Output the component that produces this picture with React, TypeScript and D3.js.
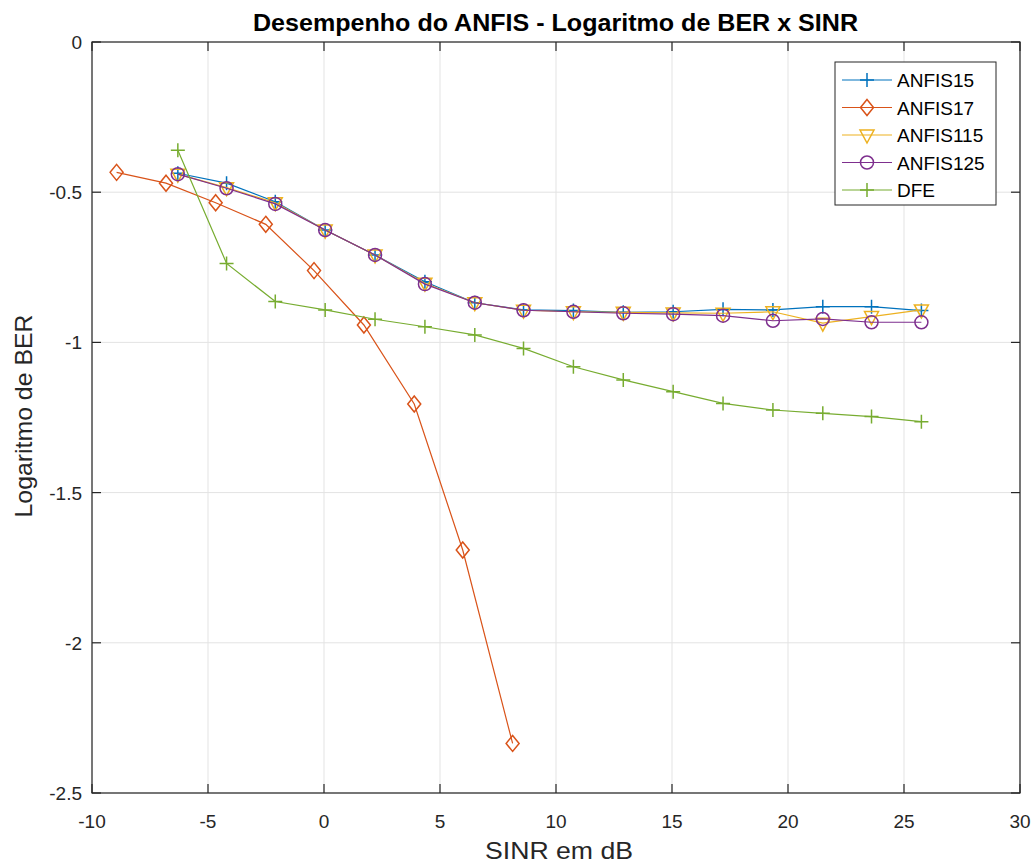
import React, { useEffect, useRef } from "react";
import * as d3 from "d3";

// SINR (dB) sampling points
const sinrAnfis = [-6.3, -4.2, -2.1, 0.05, 2.2, 4.35, 6.5, 8.6, 10.75, 12.9, 15.05, 17.2, 19.35, 21.5, 23.6, 25.75];
const sinrAnfis17 = [-8.94, -6.81, -4.67, -2.51, -0.43, 1.72, 3.89, 5.98, 8.13];

const anfis15 = [-0.437, -0.47, -0.532, -0.626, -0.709, -0.798, -0.868, -0.892, -0.894, -0.9, -0.898, -0.89, -0.892, -0.881, -0.881, -0.894];
const anfis17 = [-0.434, -0.47, -0.535, -0.607, -0.761, -0.942, -1.205, -1.691, -2.335];
const anfis115 = [-0.44, -0.485, -0.535, -0.626, -0.709, -0.803, -0.868, -0.893, -0.898, -0.9, -0.902, -0.903, -0.898, -0.936, -0.914, -0.892];
const anfis125 = [-0.44, -0.487, -0.539, -0.626, -0.709, -0.806, -0.868, -0.893, -0.898, -0.903, -0.906, -0.911, -0.928, -0.922, -0.933, -0.933];
const dfe = [-0.36, -0.737, -0.864, -0.892, -0.923, -0.948, -0.975, -1.02, -1.081, -1.125, -1.164, -1.203, -1.225, -1.236, -1.247, -1.264];

const xTicks = [-10, -5, 0, 5, 10, 15, 20, 25, 30];
const yTicks = [0, -0.5, -1, -1.5, -2, -2.5];

type Series = { name: string; x: number[]; y: number[]; color: string; marker: string };

const series: Series[] = [
  { name: "ANFIS15", x: sinrAnfis, y: anfis15, color: "#0072BD", marker: "plus" },
  { name: "ANFIS17", x: sinrAnfis17, y: anfis17, color: "#D95319", marker: "diamond" },
  { name: "ANFIS115", x: sinrAnfis, y: anfis115, color: "#EDB120", marker: "triangle" },
  { name: "ANFIS125", x: sinrAnfis, y: anfis125, color: "#7E2F8E", marker: "circle" },
  { name: "DFE", x: sinrAnfis, y: dfe, color: "#77AC30", marker: "plus" },
];

const W = 1034;
const H = 863;
const m = { left: 92, right: 14, top: 42, bottom: 70 };

const drawMarker = (g: any, kind: string, cx: number, cy: number, color: string) => {
  if (kind === "plus") {
    g.append("path").attr("d", `M${cx - 7},${cy}H${cx + 7}M${cx},${cy - 7}V${cy + 7}`)
      .attr("stroke", color).attr("stroke-width", 1.5).attr("fill", "none");
  } else if (kind === "diamond") {
    g.append("path").attr("d", `M${cx},${cy - 8}L${cx + 6.5},${cy}L${cx},${cy + 8}L${cx - 6.5},${cy}Z`)
      .attr("stroke", color).attr("stroke-width", 1.5).attr("fill", "none");
  } else if (kind === "triangle") {
    g.append("path").attr("d", `M${cx - 7},${cy - 5}L${cx + 7},${cy - 5}L${cx},${cy + 8}Z`)
      .attr("stroke", color).attr("stroke-width", 1.5).attr("fill", "none");
  } else {
    g.append("circle").attr("cx", cx).attr("cy", cy).attr("r", 6.5)
      .attr("stroke", color).attr("stroke-width", 1.5).attr("fill", "none");
  }
};

const App = () => {
  const ref = useRef<SVGSVGElement>(null);

  useEffect(() => {
    const svg = d3.select(ref.current);
    svg.selectAll("*").remove();

    const x = d3.scaleLinear().domain([-10, 30]).range([m.left, W - m.right]);
    const y = d3.scaleLinear().domain([-2.5, 0]).range([H - m.bottom, m.top]);
    const font = "'Liberation Sans', Arial, sans-serif";

    svg.append("rect").attr("width", W).attr("height", H).attr("fill", "#fff");

    // grid
    const grid = svg.append("g").attr("stroke", "#e3e3e3").attr("stroke-width", 1);
    xTicks.forEach((t) => {
      grid.append("line").attr("x1", x(t)).attr("x2", x(t)).attr("y1", y(0)).attr("y2", y(-2.5));
    });
    yTicks.forEach((t) => {
      grid.append("line").attr("x1", x(-10)).attr("x2", x(30)).attr("y1", y(t)).attr("y2", y(t));
    });

    // series
    series.forEach((s) => {
      const pts: [number, number][] = s.x.map((v, i) => [x(v), y(s.y[i])]);
      svg.append("path").attr("d", d3.line()(pts)).attr("fill", "none")
        .attr("stroke", s.color).attr("stroke-width", 1.2);
      const mg = svg.append("g");
      pts.forEach(([px, py]) => drawMarker(mg, s.marker, px, py, s.color));
    });

    // axes box and ticks
    const ax = svg.append("g").attr("stroke", "#262626").attr("stroke-width", 1.2);
    ax.append("rect").attr("x", x(-10)).attr("y", y(0)).attr("width", x(30) - x(-10))
      .attr("height", y(-2.5) - y(0)).attr("fill", "none");
    xTicks.forEach((t) => {
      ax.append("line").attr("x1", x(t)).attr("x2", x(t)).attr("y1", y(-2.5)).attr("y2", y(-2.5) - 9);
      ax.append("line").attr("x1", x(t)).attr("x2", x(t)).attr("y1", y(0)).attr("y2", y(0) + 9);
    });
    yTicks.forEach((t) => {
      ax.append("line").attr("x1", x(-10)).attr("x2", x(-10) + 9).attr("y1", y(t)).attr("y2", y(t));
      ax.append("line").attr("x1", x(30)).attr("x2", x(30) - 9).attr("y1", y(t)).attr("y2", y(t));
    });

    const lab = svg.append("g").attr("font-family", font).attr("font-size", 19).attr("fill", "#262626");
    xTicks.forEach((t) => {
      lab.append("text").attr("x", x(t)).attr("y", y(-2.5) + 35).attr("text-anchor", "middle").text(String(t));
    });
    yTicks.forEach((t) => {
      lab.append("text").attr("x", x(-10) - 10).attr("y", y(t) + 7).attr("text-anchor", "end").text(String(t));
    });

    svg.append("text").attr("x", 559).attr("y", 859).attr("text-anchor", "middle")
      .attr("font-family", font).attr("font-size", 24).attr("fill", "#262626")
      .attr("textLength", 148).attr("lengthAdjust", "spacingAndGlyphs").text("SINR em dB");
    svg.append("text").attr("transform", `translate(32,416) rotate(-90)`)
      .attr("text-anchor", "middle").attr("font-family", font).attr("font-size", 24)
      .attr("fill", "#262626").attr("textLength", 203).attr("lengthAdjust", "spacingAndGlyphs")
      .text("Logaritmo de BER");
    svg.append("text").attr("x", 555.5).attr("y", 31).attr("text-anchor", "middle")
      .attr("font-family", font).attr("font-size", 23).attr("font-weight", "bold")
      .attr("textLength", 605).attr("lengthAdjust", "spacingAndGlyphs")
      .attr("fill", "#000").text("Desempenho do ANFIS - Logaritmo de BER x SINR");

    // legend
    const lg = svg.append("g");
    lg.append("rect").attr("x", 835).attr("y", 62).attr("width", 161).attr("height", 143)
      .attr("fill", "#fff").attr("stroke", "#262626").attr("stroke-width", 1);
    series.forEach((s, i) => {
      const ly = 80 + i * 27.5;
      lg.append("line").attr("x1", 842).attr("x2", 892).attr("y1", ly).attr("y2", ly)
        .attr("stroke", s.color).attr("stroke-width", 1.2);
      drawMarker(lg, s.marker, 867, ly, s.color);
      lg.append("text").attr("x", 897).attr("y", ly + 7).attr("font-family", font)
        .attr("font-size", 19).attr("fill", "#000").text(s.name);
    });
  }, []);

  return <svg ref={ref} width={W} height={H} style={{ display: "block", position: "fixed", top: 0, left: 0 }} />;
};

export default App;
